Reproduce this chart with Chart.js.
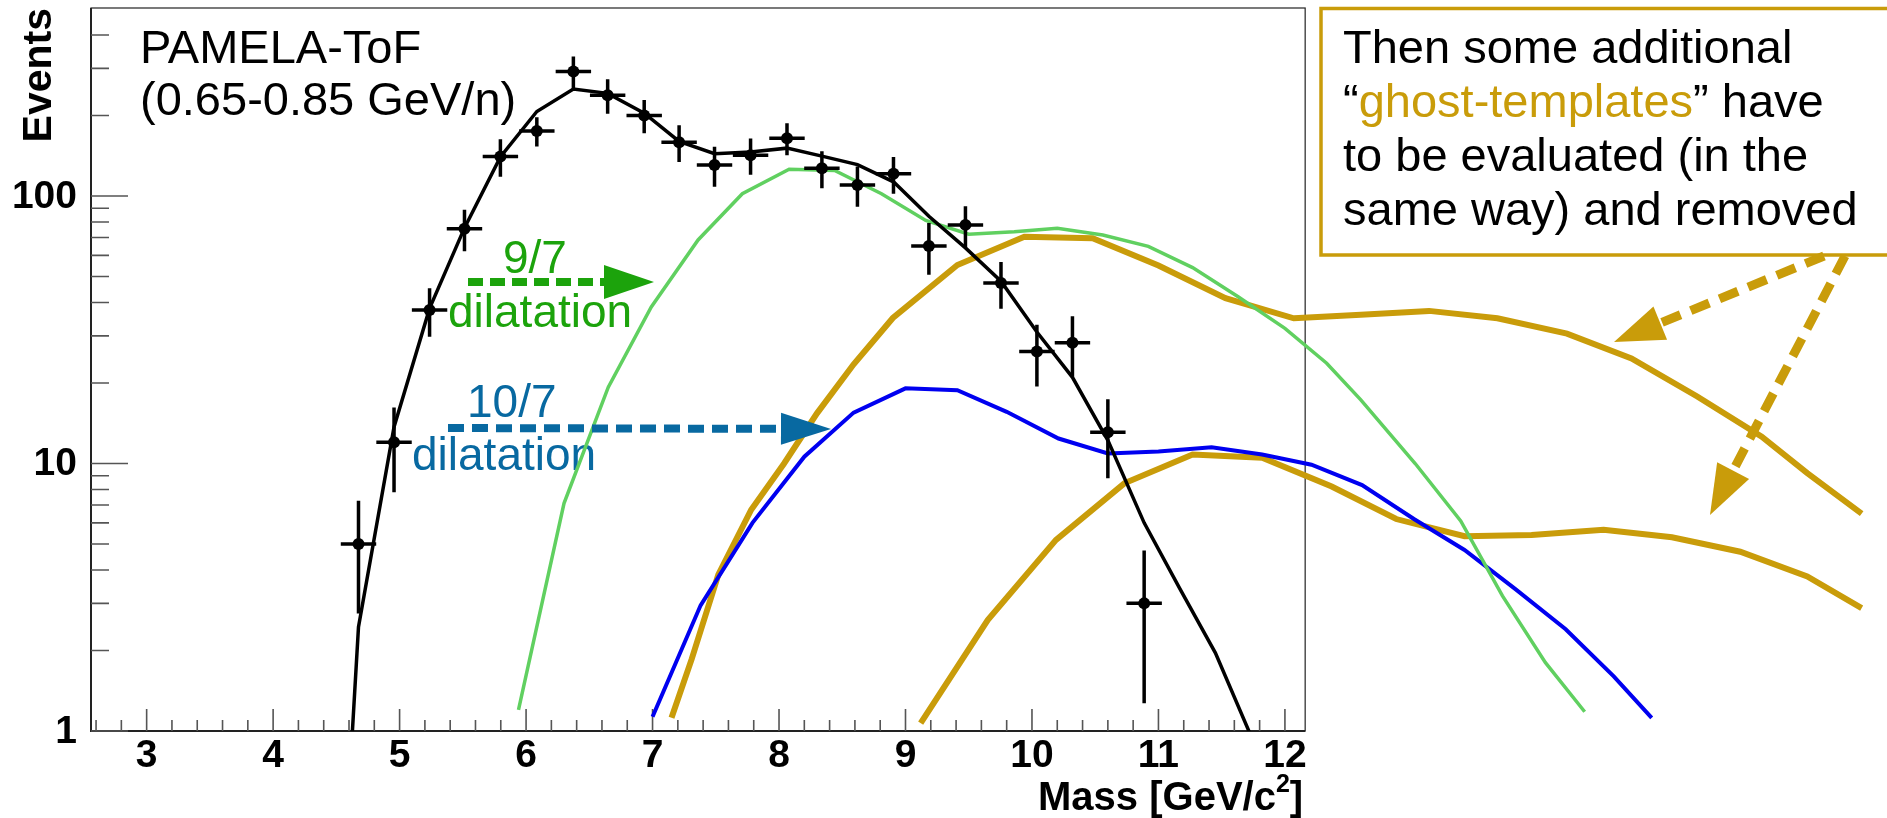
<!DOCTYPE html>
<html lang="en">
<head>
<meta charset="UTF-8">
<title>PAMELA-ToF mass templates</title>
<script src="https://cdn.jsdelivr.net/npm/chart.js"></script>
<style>
  html, body { margin: 0; padding: 0; background: #fff; }
  canvas { display: block; }
</style>
</head>
<body>
<canvas id="massChart" width="1887" height="818"></canvas>
<script>
  // measured events per mass bin (0.65-0.85 GeV/n)
  const massBins = [4.675, 4.956, 5.237, 5.513, 5.797, 6.085, 6.374, 6.645, 6.934, 7.21, 7.49, 7.775,
    8.063, 8.339, 8.62, 8.905, 9.185, 9.474, 9.755, 10.039, 10.32, 10.6, 10.887];
  const events = [5, 12, 37.5, 75.5, 140.5, 175, 292, 238, 200, 159, 130.6, 142,
    164.5, 127, 110, 121, 65, 78, 47.3, 26.2, 28.3, 13.1, 3.0];
  const eventErrors = [2.25, 4.2, 7.7, 13.4, 22.5, 22, 40, 35, 28.5, 25, 22.3, 22,
    22.4, 20, 18.8, 19, 14.2, 13.6, 9.4, 6.8, 7.2, 4.3, 1.73];
  const binHalfWidth = 0.14;

  // fitted template (black)
  const fitMass = [4.39, 4.675, 4.956, 5.237, 5.513, 5.797, 6.085, 6.374, 6.645, 6.934, 7.21, 7.49, 7.775,
    8.063, 8.339, 8.62, 8.905, 9.185, 9.474, 9.755, 10.039, 10.32, 10.6, 10.887, 11.17, 11.45, 11.735];
  const fitEvents = [0.012, 2.45, 13.7, 38, 76, 140, 207, 251, 242, 204, 160, 144, 146,
    151, 141, 131, 113, 84, 64, 48, 31, 21, 12.2, 6.0, 3.4, 1.96, 0.95];

  // 9/7 dilated template (green)
  const dil97Mass = [5.94, 6.30, 6.65, 6.99, 7.36, 7.71, 8.08, 8.44, 8.81, 9.16, 9.50, 9.86, 10.2,
    10.56, 10.92, 11.27, 11.63, 12.0, 12.33, 12.6, 13.03, 13.39, 13.72, 14.06, 14.37];
  const dil97Events = [1.2, 7.1, 19.3, 38.5, 68.5, 102, 126, 124.5, 102, 81, 72, 73.5, 75.7,
    71.5, 64.8, 54, 42, 32, 23.7, 17.3, 10, 6.1, 3.2, 1.8, 1.18];

  // 10/7 dilated template (blue)
  const dil107Mass = [7.0, 7.38, 7.79, 8.2, 8.59, 9.0, 9.41, 9.80, 10.21, 10.6, 11.0, 11.42,
    11.82, 12.21, 12.61, 13.02, 13.42, 13.82, 14.22, 14.6, 14.9];
  const dil107Events = [1.13, 2.95, 6.0, 10.6, 15.5, 19.1, 18.8, 15.6, 12.4, 10.9, 11.1, 11.5,
    10.8, 9.9, 8.3, 6.2, 4.75, 3.4, 2.4, 1.6, 1.12];

  // ghost templates (gold)
  const ghostAMass = [7.15, 7.31, 7.52, 7.78, 8.04, 8.30, 8.59, 8.90, 9.41, 9.94, 10.48, 11.0,
    11.53, 12.07, 12.6, 13.14, 13.68, 14.23, 14.74, 15.26, 15.77, 16.13, 16.56];
  const ghostAEvents = [1.12, 1.86, 3.84, 6.72, 10.0, 15.4, 23.5, 35, 55.2, 70.4, 69.5, 55,
    41.5, 34.9, 36.0, 37.2, 34.9, 30.6, 24.7, 17.8, 12.6, 9.2, 6.5];
  const ghostBMass = [9.12, 9.65, 10.19, 10.73, 11.27, 11.82, 12.37, 12.88, 13.42, 13.95,
    14.52, 15.06, 15.6, 16.13, 16.56];
  const ghostBEvents = [1.07, 2.6, 5.18, 8.43, 10.8, 10.5, 8.2, 6.2, 5.35, 5.4,
    5.65, 5.3, 4.68, 3.78, 2.88];

  const xTickLabels = [3, 4, 5, 6, 7, 8, 9, 10, 11, 12];
  const yTickLabels = [1, 10, 100];

  // frame covers 2.56 - 12.16, the curves run on past it to the page edge
  const xFrameMin = 2.56;
  const xFrameMax = 12.16;

  const GOLD = '#c99c0a';
  const FONT = '"Liberation Sans", Arial, Helvetica, sans-serif';

  const toXY = (xs, ys) => xs.map((x, i) => ({ x: x, y: ys[i] }));

  function drawArrow(ctx, x1, y1, x2, y2, color, width, dash, headLen, headHalf) {
    const dx = x2 - x1, dy = y2 - y1;
    const len = Math.sqrt(dx * dx + dy * dy);
    const ux = dx / len, uy = dy / len;
    const bx = x2 - ux * headLen, by = y2 - uy * headLen;
    ctx.save();
    ctx.strokeStyle = color;
    ctx.fillStyle = color;
    ctx.lineWidth = width;
    ctx.setLineDash(dash);
    ctx.beginPath();
    ctx.moveTo(x1, y1);
    ctx.lineTo(bx, by);
    ctx.stroke();
    ctx.setLineDash([]);
    ctx.beginPath();
    ctx.moveTo(x2, y2);
    ctx.lineTo(bx - uy * headHalf, by + ux * headHalf);
    ctx.lineTo(bx + uy * headHalf, by - ux * headHalf);
    ctx.closePath();
    ctx.fill();
    ctx.restore();
  }

  const rootFrame = {
    id: 'rootFrame',
    beforeDatasetsDraw(chart) {
      const ctx = chart.ctx;
      const xs = chart.scales.x, ys = chart.scales.y;
      const left = xs.getPixelForValue(xFrameMin);
      const right = xs.getPixelForValue(xFrameMax);
      const top = chart.chartArea.top, bottom = chart.chartArea.bottom;

      ctx.save();
      // frame
      ctx.strokeStyle = '#222';
      ctx.lineWidth = 1.2;
      ctx.strokeRect(left, top, right - left, bottom - top);
      ctx.lineWidth = 2;
      ctx.beginPath();
      ctx.moveTo(left, top);
      ctx.lineTo(left, bottom);
      ctx.lineTo(right, bottom);
      ctx.stroke();

      // ticks, drawn inside the frame
      ctx.strokeStyle = '#555';
      ctx.lineWidth = 1.6;
      ctx.beginPath();
      for (let k = 13; k <= 60; k++) {
        const v = k / 5;
        const px = xs.getPixelForValue(v);
        const len = (k % 5 === 0) ? 22 : 11;
        ctx.moveTo(px, bottom);
        ctx.lineTo(px, bottom - len);
      }
      yTickLabels.forEach(d => {
        for (let k = 1; k <= 9; k++) {
          const v = k * d;
          if (v > 450) continue;
          const py = ys.getPixelForValue(v);
          ctx.moveTo(left, py);
          ctx.lineTo(left + (k === 1 ? 37 : 18), py);
        }
      });
      ctx.stroke();

      // labels inside the plot
      ctx.fillStyle = '#000';
      ctx.font = '47px ' + FONT;
      ctx.textAlign = 'left';
      ctx.textBaseline = 'alphabetic';
      ctx.fillText('PAMELA-ToF', 140, 63);
      ctx.fillText('(0.65-0.85 GeV/n)', 140, 115);

      ctx.font = '46px ' + FONT;
      ctx.fillStyle = '#1ca30c';
      ctx.fillText('9/7', 503, 273);
      ctx.fillText('dilatation', 448, 327);
      ctx.fillStyle = '#0869a1';
      ctx.fillText('10/7', 467, 417);
      ctx.fillText('dilatation', 412, 470);
      ctx.restore();
    },
    afterDatasetsDraw(chart) {
      const ctx = chart.ctx;
      const xs = chart.scales.x, ys = chart.scales.y;
      const right = xs.getPixelForValue(xFrameMax);

      ctx.save();
      // error bars on the data points
      ctx.strokeStyle = '#000';
      ctx.lineWidth = 3.5;
      ctx.beginPath();
      massBins.forEach((m, i) => {
        const px = xs.getPixelForValue(m);
        const py = ys.getPixelForValue(events[i]);
        ctx.moveTo(px, ys.getPixelForValue(events[i] - eventErrors[i]));
        ctx.lineTo(px, ys.getPixelForValue(events[i] + eventErrors[i]));
        ctx.moveTo(xs.getPixelForValue(m - binHalfWidth), py);
        ctx.lineTo(xs.getPixelForValue(m + binHalfWidth), py);
      });
      ctx.stroke();

      // axis labels
      ctx.fillStyle = '#000';
      ctx.font = 'bold 39px ' + FONT;
      ctx.textAlign = 'center';
      ctx.textBaseline = 'alphabetic';
      xTickLabels.forEach(v => ctx.fillText(String(v), xs.getPixelForValue(v), 767));
      ctx.textAlign = 'right';
      ctx.textBaseline = 'middle';
      yTickLabels.forEach(v => ctx.fillText(String(v), 77, ys.getPixelForValue(v) + 1));

      // x title with superscript
      ctx.textBaseline = 'alphabetic';
      ctx.textAlign = 'left';
      ctx.font = 'bold 40px ' + FONT;
      const main = 'Mass [GeV/c';
      const wMain = ctx.measureText(main).width;
      const wBr = ctx.measureText(']').width;
      ctx.font = 'bold 25px ' + FONT;
      const wSup = ctx.measureText('2').width;
      const x0 = right - 2 - wMain - wSup - wBr;
      ctx.font = 'bold 40px ' + FONT;
      ctx.fillText(main, x0, 810);
      ctx.fillText(']', x0 + wMain + wSup, 810);
      ctx.font = 'bold 25px ' + FONT;
      ctx.fillText('2', x0 + wMain, 792);

      // y title
      ctx.save();
      ctx.translate(51, chart.chartArea.top);
      ctx.rotate(-Math.PI / 2);
      ctx.font = 'bold 41px ' + FONT;
      ctx.textAlign = 'right';
      ctx.fillText('Events', 0, 0);
      ctx.restore();

      // dilatation arrows
      drawArrow(ctx, 468, 282, 654, 282, '#1ca30c', 8, [15, 7], 50, 17);
      drawArrow(ctx, 448, 428, 831, 429, '#0869a1', 8, [16, 8], 50, 16);

      // note box
      ctx.fillStyle = '#fff';
      ctx.fillRect(1321, 8, 600, 247);
      ctx.strokeStyle = GOLD;
      ctx.lineWidth = 3.5;
      ctx.strokeRect(1321, 8.5, 600, 246.5);

      ctx.font = '47px ' + FONT;
      ctx.textAlign = 'left';
      ctx.fillStyle = '#000';
      const tx = 1343;
      ctx.fillText('Then some additional', tx, 63);
      let cx = tx;
      ctx.fillText('\u201c', cx, 117);
      cx += ctx.measureText('\u201c').width;
      ctx.fillStyle = GOLD;
      ctx.fillText('ghost-templates', cx, 117);
      cx += ctx.measureText('ghost-templates').width;
      ctx.fillStyle = '#000';
      ctx.fillText('\u201d have', cx, 117);
      ctx.fillText('to be evaluated (in the', tx, 171);
      ctx.fillText('same way) and removed', tx, 225);

      drawArrow(ctx, 1824, 256, 1614, 342, GOLD, 9, [20, 11], 50, 18);
      drawArrow(ctx, 1845, 256, 1710, 515, GOLD, 9, [20, 11], 50, 18);
      ctx.restore();
    }
  };

  const ctx = document.getElementById('massChart').getContext('2d');
  const chart = new Chart(ctx, {
    type: 'line',
    data: {
      datasets: [
        {
          label: 'Data',
          data: toXY(massBins, events),
          showLine: false,
          pointRadius: 6,
          pointBackgroundColor: '#000',
          pointBorderWidth: 0
        },
        {
          label: 'Fit',
          data: toXY(fitMass, fitEvents),
          borderColor: '#000',
          borderWidth: 3.5,
          pointRadius: 0
        },
        {
          label: '9/7',
          data: toXY(dil97Mass, dil97Events),
          borderColor: '#60d060',
          borderWidth: 3.5,
          pointRadius: 0
        },
        {
          label: '10/7',
          data: toXY(dil107Mass, dil107Events),
          borderColor: '#0000f0',
          borderWidth: 4,
          pointRadius: 0
        },
        {
          label: 'ghost A',
          data: toXY(ghostAMass, ghostAEvents),
          borderColor: GOLD,
          borderWidth: 6,
          pointRadius: 0
        },
        {
          label: 'ghost B',
          data: toXY(ghostBMass, ghostBEvents),
          borderColor: GOLD,
          borderWidth: 6,
          pointRadius: 0
        }
      ]
    },
    options: {
      responsive: false,
      animation: false,
      events: [],
      layout: { padding: { left: 91, top: 8, right: 0, bottom: 87 } },
      scales: {
        x: { type: 'linear', min: 2.56, max: 16.713, display: false },
        y: { type: 'logarithmic', min: 1, max: 504.5, display: false }
      },
      plugins: {
        legend: { display: false },
        tooltip: { enabled: false }
      }
    },
    plugins: [rootFrame]
  });
</script>
</body>
</html>
